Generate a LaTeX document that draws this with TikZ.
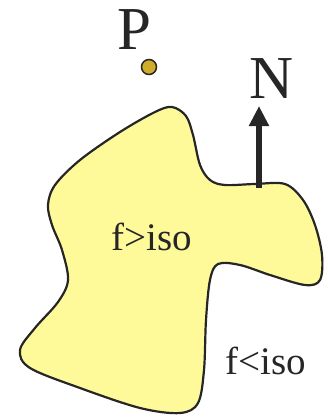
\documentclass[tikz,border=0pt]{standalone}
\usepackage{fontspec}
\setmainfont{Liberation Serif}
\usetikzlibrary{arrows.meta}
\begin{document}
\begin{tikzpicture}[x=1pt,y=-1pt,
  blob/.style={draw=black!85,line width=2.2pt,fill=yellow!40!white},
  lbl/.style={inner sep=0pt,text=black!85},
  normal/.style={draw=black!85,line width=6pt,-{Triangle[length=20pt,width=19pt]}}]
\useasboundingbox (0,0) rectangle (328,417);
\draw[blob] plot[smooth cycle,tension=0.55] coordinates {
(172,107) (186,116) (193,135) (200,165) (210,180) (225,185) (255,184) (285,184)
(303,200) (315,225) (322,255) (320,280) (305,285) (270,275) (240,265) (218,264)
(210,280) (206,320) (204,370) (198,403) (180,413) (140,408) (80,388) (30,368)
(20,350) (35,328) (58,302) (68,280) (62,250) (52,225) (48,205) (55,185) (80,160)
(120,132) (155,112)};
\coordinate (base) at (259,188);
\coordinate (tip) at (259,106);
\draw[normal] (base) -- (tip);
\node[circle,draw=black!85,line width=1.5pt,fill=yellow!60!orange!80!black,minimum size=15pt,inner sep=0pt] (dot) at (149,67) {};
\node[lbl,font=\fontsize{61}{63}\selectfont,anchor=base] (P) at (134,50) {P};
\node[lbl,font=\fontsize{61}{63}\selectfont,anchor=base] (N) at (272,99) {N};
\node[lbl,font=\fontsize{39}{41}\selectfont,anchor=base] (in) at (152,250) {f>iso};
\node[lbl,font=\fontsize{39}{41}\selectfont,anchor=base] (out) at (266,374) {f<iso};
\end{tikzpicture}
\end{document}
